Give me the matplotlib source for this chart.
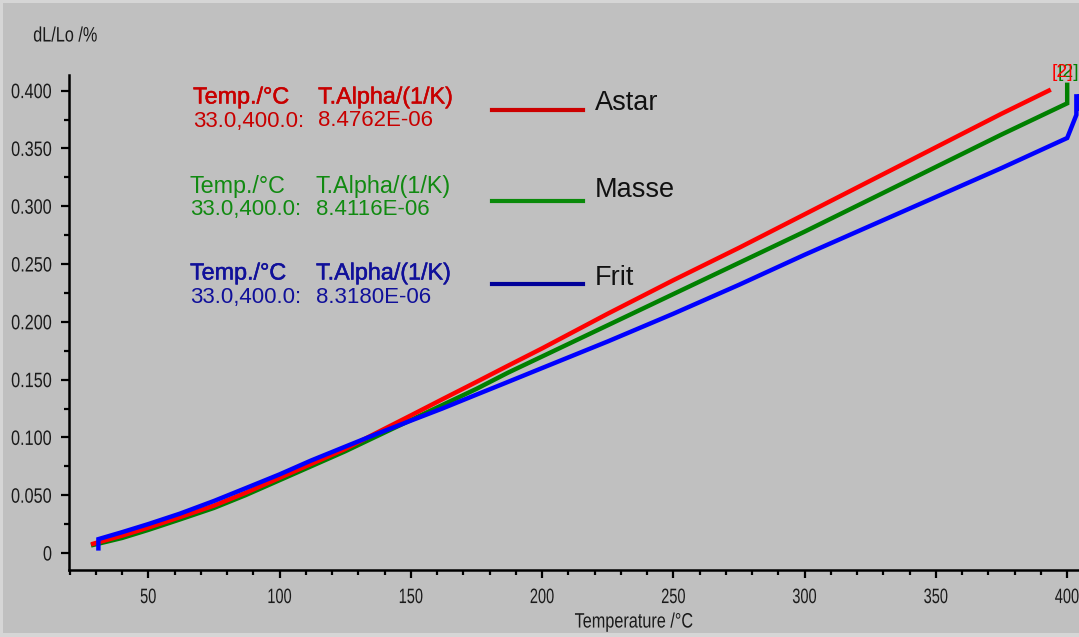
import matplotlib
matplotlib.use("Agg")
import matplotlib.pyplot as plt
from matplotlib.ticker import MultipleLocator, FuncFormatter
from matplotlib.lines import Line2D
from matplotlib.patches import Rectangle
from matplotlib.transforms import Affine2D
from matplotlib import patheffects

# Dilatometer curves: relative length change dL/Lo (%) versus temperature (°C)
temp_astar = [29, 40, 50, 62, 75, 87, 100, 112, 125, 137, 150, 162, 175, 187,
              200, 225, 250, 275, 300, 325, 350, 375, 393]
dl_astar = [0.008, 0.015, 0.022, 0.031, 0.041, 0.052, 0.065, 0.077, 0.090, 0.104,
            0.119, 0.133, 0.148, 0.162, 0.177, 0.207, 0.236, 0.264, 0.293, 0.322,
            0.351, 0.380, 0.400]

temp_masse = [29, 40, 50, 62, 75, 87, 100, 112, 125, 137, 150, 162, 175, 187,
              200, 225, 250, 275, 300, 325, 350, 375, 400, 400]
dl_masse = [0.007, 0.013, 0.020, 0.029, 0.039, 0.050, 0.063, 0.075, 0.088, 0.101,
            0.115, 0.128, 0.142, 0.156, 0.170, 0.197, 0.224, 0.251, 0.278, 0.306,
            0.334, 0.362, 0.389, 0.405]

temp_frit = [31, 31, 40, 50, 62, 75, 87, 100, 112, 125, 137, 150, 162, 175, 187,
             200, 225, 250, 275, 300, 325, 350, 375, 400, 403.5, 403.5]
dl_frit = [0.004, 0.012, 0.018, 0.025, 0.034, 0.045, 0.056, 0.068, 0.080, 0.092,
           0.103, 0.1145, 0.125, 0.137, 0.148, 0.160, 0.183, 0.207, 0.232, 0.258,
           0.283, 0.308, 0.333, 0.359, 0.379, 0.395]

sample_names = ["Astar", "Masse", "Frit"]
alpha_values = ["8.4762E-06", "8.4116E-06", "8.3180E-06"]
temp_range = "33.0,400.0:"
segment_tag = "[2]"

curve_colors = ["#ff0000", "#008000", "#0000ff"]
text_colors = ["#c80000", "#118a11", "#10109a"]
key_colors = ["#cc0000", "#0a8a0a", "#000099"]

W, H = 1079, 637
BG = "#c0c0c0"
FONT = ["Liberation Sans", "DejaVu Sans"]
plt.rcParams["font.family"] = FONT


class HScale(patheffects.AbstractPathEffect):
    """Squeeze a text horizontally about its left, centre or right edge."""

    def __init__(self, sx, anchor="center"):
        super().__init__()
        self.sx = sx
        self.anchor = anchor

    def draw_path(self, renderer, gc, tpath, affine, rgbFace=None):
        ext = tpath.get_extents(affine)
        if self.anchor == "right":
            x0 = ext.x1
        elif self.anchor == "left":
            x0 = ext.x0
        else:
            x0 = 0.5 * (ext.x0 + ext.x1)
        squeeze = Affine2D().translate(-x0, 0).scale(self.sx, 1).translate(x0, 0)
        renderer.draw_path(gc, tpath, affine + squeeze, rgbFace)


SX = 0.78
SX_TICK_X = 0.70

fig = plt.figure(figsize=(W / 100, H / 100), dpi=100, facecolor=BG)

# thin lighter frame strips along the top, left and bottom edges
for (x0, y0, w, h) in [(0, 0, W, 3), (0, 0, 3, H), (0, H - 4, W, 4)]:
    fig.add_artist(Rectangle((x0 / W, 1 - (y0 + h) / H), w / W, h / H,
                             transform=fig.transFigure, facecolor="#d6d6d6",
                             edgecolor="none", zorder=0))

left_px, right_px, top_px, bottom_px = 69, 1079, 75, 570
ax = fig.add_axes([left_px / W, 1 - bottom_px / H,
                   (right_px - left_px) / W, (bottom_px - top_px) / H])
ax.set_facecolor(BG)
ax.set_xlim(19.8, 404.5)
ax.set_ylim(-0.0147, 0.4135)

for side in ("top", "right"):
    ax.spines[side].set_visible(False)
for side in ("left", "bottom"):
    ax.spines[side].set_linewidth(1.8)
    ax.spines[side].set_color("black")

ax.xaxis.set_major_locator(MultipleLocator(50))
ax.xaxis.set_minor_locator(MultipleLocator(10))
ax.yaxis.set_major_locator(MultipleLocator(0.05))
ax.yaxis.set_minor_locator(MultipleLocator(0.025))
ax.yaxis.set_major_formatter(FuncFormatter(lambda v, p: "0" if abs(v) < 1e-9 else f"{v:.3f}"))
ax.xaxis.set_major_formatter(FuncFormatter(lambda v, p: f"{v:.0f}"))

ax.tick_params(axis="both", which="major", direction="out", length=6, width=1.6,
               color="black", labelcolor="#1a1a1a", labelsize=15)
ax.tick_params(axis="both", which="minor", direction="out", length=3.5, width=1.6,
               color="black")
ax.tick_params(axis="y", which="major", pad=6)
ax.tick_params(axis="x", which="major", pad=7)
for lab in ax.get_yticklabels():
    lab.set_path_effects([HScale(SX, "right")])
for lab in ax.get_xticklabels():
    lab.set_path_effects([HScale(SX_TICK_X, "center")])

# curves: Masse underneath, Astar next, Frit on top
series = [(temp_masse, dl_masse, 1), (temp_astar, dl_astar, 0), (temp_frit, dl_frit, 2)]
for t, d, i in series:
    ax.plot(t, d, color=curve_colors[i], lw=3.2, solid_joinstyle="miter", clip_on=False)

# segment tags at the curve ends
tag_pos = [(394.1, 0.4157), (396.4, 0.4157), (403.2, 0.390)]
for i in (1, 0, 2):
    ax.text(tag_pos[i][0], tag_pos[i][1], segment_tag, color=curve_colors[i],
            fontsize=14, ha="left", va="center", clip_on=False)


def ftext(x, y, s, **kw):
    return fig.text(x / W, 1 - y / H, s, **kw)


# evaluation blocks and keys
header_y = [97, 187, 273]
value_y = [121, 210, 297]
header_x = [193, 190, 190]
alpha_x = [318, 316, 316]
key_y = [110, 201, 284]
name_y = [103, 190, 278]
heavy = [0.35, 0.0, 0.35]
for i in range(3):
    fx = [patheffects.withStroke(linewidth=heavy[i], foreground=text_colors[i])] if heavy[i] else None
    ftext(header_x[i], header_y[i], "Temp./°C", color=text_colors[i], fontsize=16.8,
          va="center", path_effects=fx)
    ftext(alpha_x[i], header_y[i], "T.Alpha/(1/K)", color=text_colors[i], fontsize=16.8,
          va="center", path_effects=fx)
    ftext(header_x[i], value_y[i], temp_range, color=text_colors[i], fontsize=16,
          va="center")
    ftext(alpha_x[i], value_y[i], alpha_values[i], color=text_colors[i], fontsize=16,
          va="center")
    fig.add_artist(Line2D([492 / W, 583 / W], [1 - key_y[i] / H] * 2,
                          transform=fig.transFigure, color=key_colors[i], lw=3.0))
    ftext(595, name_y[i], sample_names[i], color="#111111", fontsize=19.5, va="center")

# axis titles
ftext(33, 36, "dL/Lo /%", color="#1a1a1a", fontsize=15, va="center",
      path_effects=[HScale(SX, "left")])
ftext(634, 622, "Temperature /°C", color="#1a1a1a", fontsize=15,
      va="center", ha="center", path_effects=[HScale(SX, "center")])

fig.savefig("out.png", dpi=100, facecolor=BG)
